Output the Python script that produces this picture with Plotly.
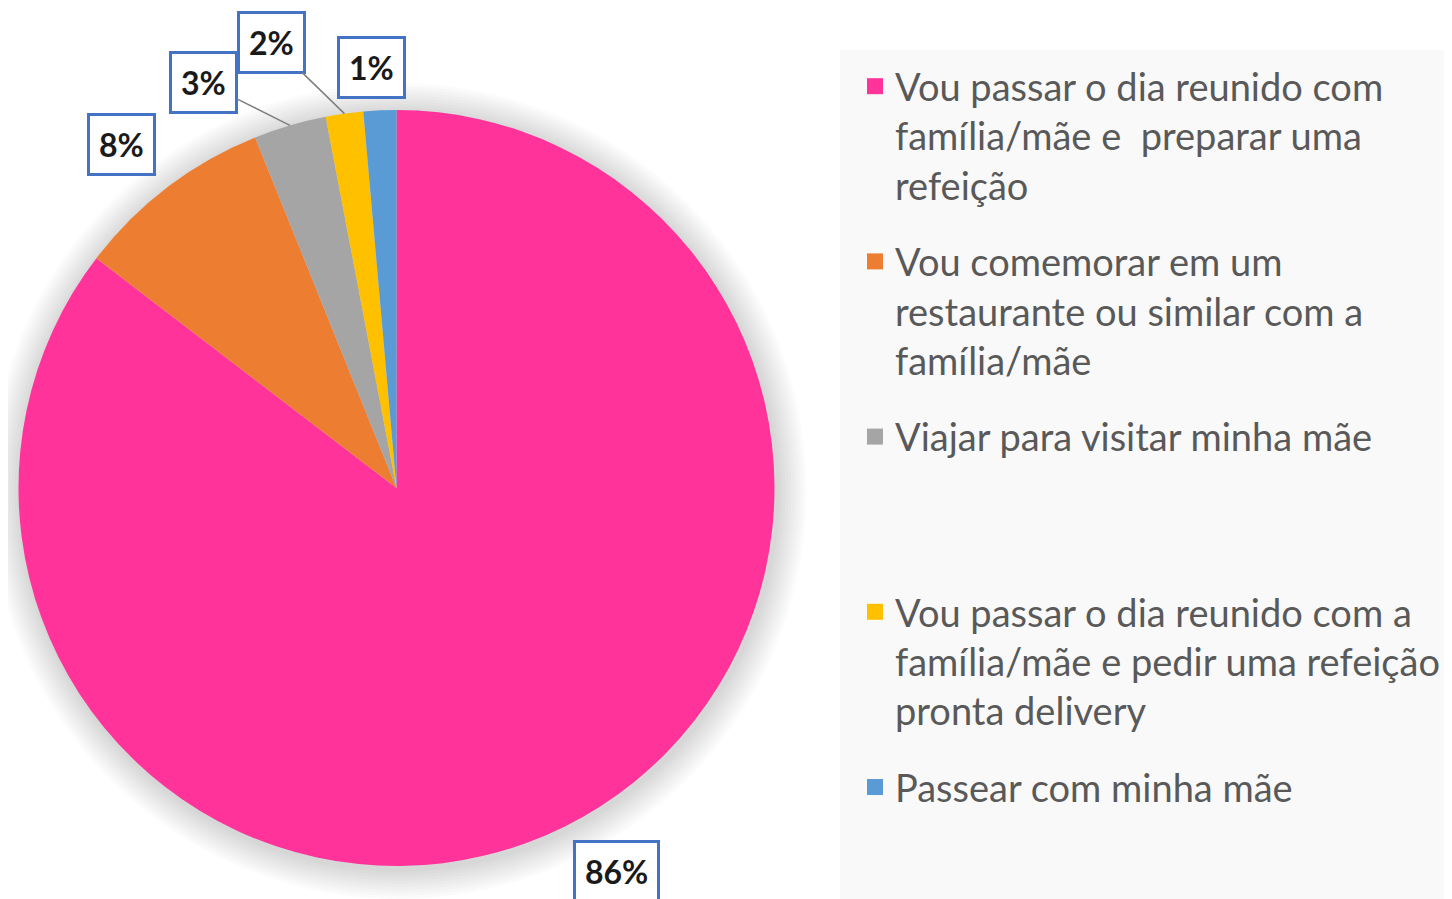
import math
import plotly.graph_objects as go

# ---- data ----
categories = [
    "Vou passar o dia reunido com<br>família/mãe e  preparar uma<br>refeição",
    "Vou comemorar em um<br>restaurante ou similar com a<br>família/mãe",
    "Viajar para visitar minha mãe<br>&nbsp;<br>&nbsp;",
    "Vou passar o dia reunido com a<br>família/mãe e pedir uma refeição<br>pronta delivery",
    "Passear com minha mãe",
]
values = [85.4, 8.5, 3.1, 1.6, 1.4]
label_text = ["86%", "8%", "3%", "2%", "1%"]
colors = ["#FF3399", "#ED7D31", "#A5A5A5", "#FFC000", "#5B9BD5"]

# ---- geometry (figure pixels; page has an 8px body margin) ----
W, H = 1444, 891
CX, CY, R = 388.5, 480.0, 378.0  # pixel centre / radius of the pie
dom_x = [(CX - R) / W, (CX + R) / W]
dom_y = [(H - CY - R) / H, (H - CY + R) / H]

fig = go.Figure()

fig.add_trace(go.Pie(
    labels=[c.split("<br>")[0] for c in categories],
    values=values,
    sort=False,
    direction="clockwise",
    rotation=0,
    marker=dict(colors=colors, line=dict(width=0)),
    textinfo="none",
    hoverinfo="label+percent",
    showlegend=False,
    domain=dict(x=dom_x, y=dom_y),
))

# legend entries (one group per entry so the spacing can be set)
for i, (name, col) in enumerate(zip(categories, colors)):
    fig.add_trace(go.Scatter(
        x=[None], y=[None], mode="markers",
        marker=dict(symbol="square", size=16, color=col),
        name=name, legendgroup=str(i), showlegend=True,
        hoverinfo="skip",
    ))

# soft shadow under the pie
shapes = []
for k in range(1, 11):
    rr = R + k * 3
    shapes.append(dict(
        type="circle", xref="paper", yref="paper", layer="below",
        x0=(CX + 2 - rr) / W, x1=(CX + 2 + rr) / W,
        y0=(H - CY - 3 - rr) / H, y1=(H - CY - 3 + rr) / H,
        fillcolor="rgba(0,0,0,0.016)", line=dict(width=0),
    ))
# legend panel
shapes.append(dict(
    type="rect", xref="paper", yref="paper", layer="below",
    x0=832 / W, x1=1.0, y0=0.0, y1=(H - 42) / H,
    fillcolor="#F9F9F9", line=dict(width=0),
))

# data labels (derived from slice angles)
offsets = [(53, 45, False), (-46, -43, False), (-86, -43, True),
           (-73, -71, True), (-8, -43, False)]
total = sum(values)
cum = 0.0
annotations = []
for v, txt, (ox, oy, arrow) in zip(values, label_text, offsets):
    mid = (cum + v / 2) / total * 2 * math.pi
    cum += v
    tx = CX + R * math.sin(mid)
    ty = CY - R * math.cos(mid)
    annotations.append(dict(
        x=tx / W, y=(H - ty) / H, xref="paper", yref="paper",
        text="<b>%s</b>" % txt,
        showarrow=True, arrowhead=0, arrowwidth=1.5,
        arrowcolor="#7F7F7F" if arrow else "rgba(0,0,0,0)",
        ax=ox, ay=oy, standoff=0,
        font=dict(family="Lato", size=32, color="#1A1A1A"),
        bgcolor="white", bordercolor="#4472C4", borderwidth=3, borderpad=9,
    ))

fig.update_layout(
    width=W, height=H,
    margin=dict(l=0, r=0, t=0, b=0),
    paper_bgcolor="white", plot_bgcolor="rgba(0,0,0,0)",
    xaxis=dict(visible=False), yaxis=dict(visible=False),
    shapes=shapes, annotations=annotations,
    showlegend=True,
    legend=dict(
        x=847 / W, y=(H - 47) / H, xanchor="left", yanchor="top",
        bgcolor="rgba(0,0,0,0)",
        font=dict(family="Lato", size=38, color="#595959"),
        valign="top", traceorder="grouped", tracegroupgap=24,
        itemclick=False, itemdoubleclick=False,
    ),
)

fig.write_html("out.html")
